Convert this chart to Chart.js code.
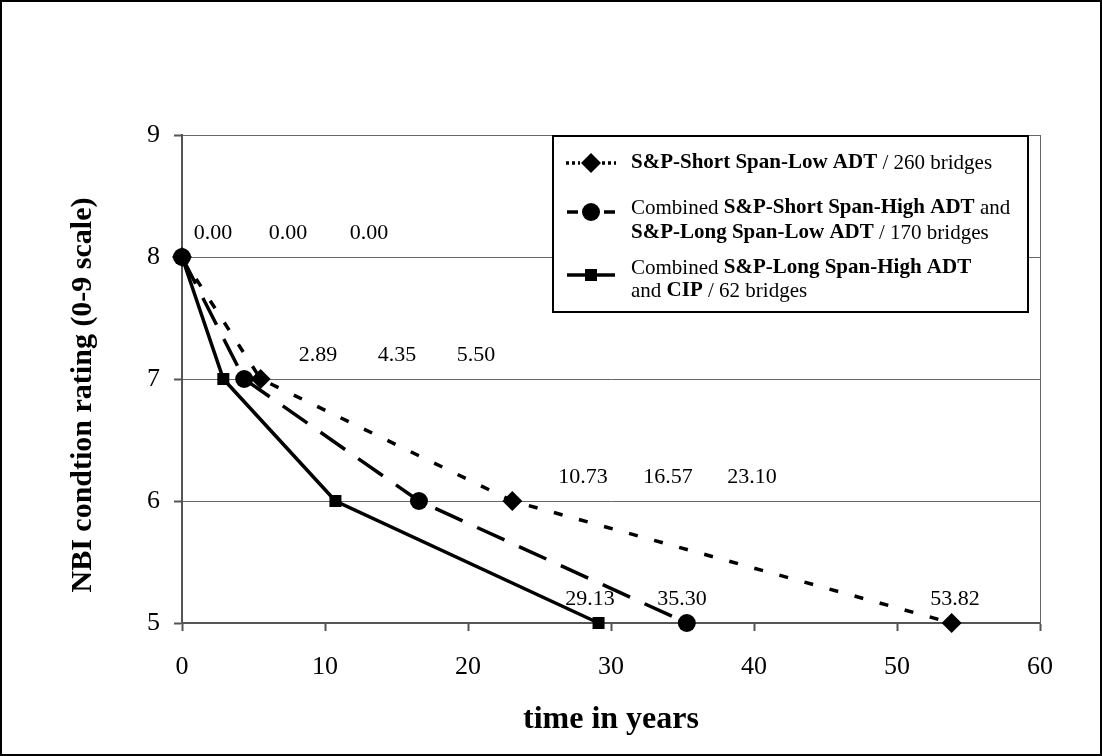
<!DOCTYPE html>
<html>
<head>
<meta charset="utf-8">
<script src="https://cdn.jsdelivr.net/npm/chart.js@4"></script>
<style>
  html, body { margin: 0; padding: 0; background: #fff; }
  #wrap { width: 1102px; height: 756px; }
</style>
</head>
<body>
<div id="wrap"><canvas id="rating" width="1102" height="756"></canvas></div>
<script>
// condition ratings and the time (years) each group takes to reach them
var ratings = [8, 7, 6, 5];
var yearsShortLow = [0, 5.50, 23.10, 53.82];
var yearsShortHighLongLow = [0, 4.35, 16.57, 35.30];
var yearsLongHighCip = [0, 2.89, 10.73, 29.13];
var xTickValues = [0, 10, 20, 30, 40, 50, 60];
var yTickValues = [5, 6, 7, 8, 9];

// where the value labels sit (in years), one row per rating
var labelAnchors = [
  [2.17, 7.41, 13.08],
  [9.51, 15.03, 20.56],
  [28.04, 33.99, 39.86],
  [28.53, 34.97, 54.06]
];

var serif = '"Liberation Serif", "Times New Roman", serif';

function toPoints(years) {
  return ratings.map(function (r, i) { return { x: years[i], y: r }; });
}

var series = [
  { data: toPoints(yearsShortLow), dash: [9, 17], style: 'rectRot', radius: 10 },
  { data: toPoints(yearsShortHighLongLow), dash: [30, 16], style: 'circle', radius: 9 },
  { data: toPoints(yearsLongHighCip), dash: [], style: 'rect', radius: 8.5 }
];

var legendRows = [
  { markerY: 163, lines: [[['S&P-Short Span-Low ADT', 1], [' / 260 bridges', 0]]], ys: [163] },
  { markerY: 212, lines: [[['Combined ', 0], ['S&P-Short Span-High ADT', 1], [' and', 0]],
                          [['S&P-Long Span-Low ADT', 1], [' / 170 bridges', 0]]], ys: [208, 233] },
  { markerY: 275, lines: [[['Combined ', 0], ['S&P-Long Span-High ADT', 1]],
                          [['and ', 0], ['CIP', 1], [' / 62 bridges', 0]]], ys: [268, 291] }
];

var extras = {
  id: 'extras',
  afterDatasetsDraw: function (chart) {
    var ctx = chart.ctx;
    var xs = chart.scales.x, ys = chart.scales.y;
    ctx.save();

    // value labels
    ctx.fillStyle = '#000';
    ctx.font = '22px ' + serif;
    ctx.textAlign = 'center';
    ctx.textBaseline = 'middle';
    ratings.forEach(function (r, i) {
      var vals = [yearsLongHighCip[i], yearsShortHighLongLow[i], yearsShortLow[i]];
      vals.forEach(function (v, j) {
        ctx.fillText(v.toFixed(2), xs.getPixelForValue(labelAnchors[i][j]), ys.getPixelForValue(r) - 24);
      });
    });

    // y axis title, sitting a little below the axis centre as in the original
    ctx.save();
    ctx.translate(83, 395);
    ctx.rotate(-Math.PI / 2);
    ctx.font = 'bold 30px ' + serif;
    ctx.fillText('NBI condtion rating (0-9 scale)', 0, 0);
    ctx.restore();

    // legend box
    ctx.fillStyle = '#fff';
    ctx.fillRect(553, 136, 475, 176);
    ctx.strokeStyle = '#000';
    ctx.lineWidth = 2;
    ctx.strokeRect(553, 136, 475, 176);

    var samples = [
      [[566, 580, [3, 3]], [602, 616, [3, 3]]],
      [[567, 578, []], [604, 615, []]],
      [[567, 615, []]]
    ];
    legendRows.forEach(function (row, k) {
      var s = series[k];
      ctx.save();
      ctx.strokeStyle = '#000';
      ctx.lineWidth = 3.5;
      samples[k].forEach(function (seg) {
        ctx.setLineDash(seg[2]);
        ctx.beginPath();
        ctx.moveTo(seg[0], row.markerY);
        ctx.lineTo(seg[1], row.markerY);
        ctx.stroke();
      });
      ctx.restore();
      ctx.fillStyle = '#000';
      Chart.helpers.drawPoint(ctx, { pointStyle: s.style, radius: s.radius, borderWidth: 0 }, 591, row.markerY);

      ctx.textAlign = 'left';
      ctx.textBaseline = 'middle';
      ctx.fillStyle = '#000';
      row.lines.forEach(function (line, li) {
        var x = 631;
        line.forEach(function (seg) {
          ctx.font = (seg[1] ? 'bold ' : '') + '21px ' + serif;
          ctx.fillText(seg[0], x, row.ys[li]);
          x += ctx.measureText(seg[0]).width;
        });
      });
    });

    // outer frame
    ctx.strokeStyle = '#000';
    ctx.lineWidth = 2;
    ctx.strokeRect(1, 1, chart.width - 2, chart.height - 2);
    ctx.restore();
  }
};

new Chart(document.getElementById('rating').getContext('2d'), {
  type: 'line',
  data: {
    datasets: series.map(function (s) {
      return {
        data: s.data,
        borderColor: '#000',
        backgroundColor: '#000',
        borderWidth: 3.5,
        borderDash: s.dash,
        pointStyle: s.style,
        pointRadius: s.radius,
        pointBorderWidth: 0,
        tension: 0,
        clip: false
      };
    })
  },
  options: {
    responsive: false,
    animation: false,
    layout: { padding: { left: 0, top: 135, right: 62, bottom: 0 } },
    plugins: { legend: { display: false }, tooltip: { enabled: false } },
    scales: {
      x: {
        type: 'linear',
        min: 0, max: 60,
        afterBuildTicks: function (s) { s.ticks = xTickValues.map(function (v) { return { value: v }; }); },
        afterFit: function (s) { s.height = 133; },
        ticks: { color: '#000', font: { family: serif, size: 26 }, padding: 21, maxRotation: 0 },
        grid: { drawOnChartArea: false, tickLength: 8, color: '#555', tickWidth: 2 },
        border: { color: '#555', width: 2 },
        title: { display: true, text: 'time in years', color: '#000',
                 font: { family: serif, size: 32, weight: 'bold' }, padding: { bottom: 17 } }
      },
      y: {
        min: 5, max: 9,
        afterBuildTicks: function (s) { s.ticks = yTickValues.map(function (v) { return { value: v }; }); },
        afterFit: function (s) { s.width = 182; },
        ticks: { color: '#000', font: { family: serif, size: 26 }, padding: 14 },
        grid: { color: '#666', lineWidth: 1, tickLength: 8, tickColor: '#555', tickWidth: 2 },
        border: { color: '#555', width: 2 }
      },
      y2: {
        position: 'right',
        min: 5, max: 9,
        afterFit: function (s) { s.width = 0; },
        ticks: { display: false },
        grid: { display: false },
        border: { display: true, color: '#666', width: 1 }
      }
    }
  },
  plugins: [extras]
});
</script>
</body>
</html>
